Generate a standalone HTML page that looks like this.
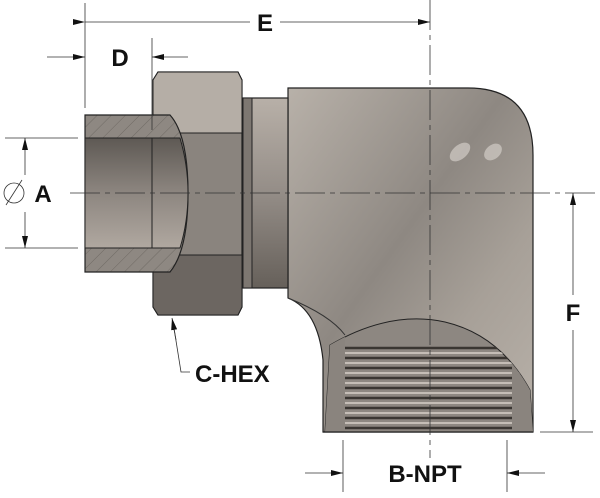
<!DOCTYPE html>
<html><head><style>
html,body{margin:0;padding:0;background:#fff;width:600px;height:498px;overflow:hidden}
svg{display:block}
text{font-family:"Liberation Sans",sans-serif;font-weight:bold;fill:#111}
</style></head><body>
<svg width="600" height="498" viewBox="0 0 600 498" xmlns="http://www.w3.org/2000/svg">
<defs>
<linearGradient id="tube" x1="0" y1="0" x2="0" y2="1">
<stop offset="0" stop-color="#5e5954"/><stop offset="0.5" stop-color="#8d8680"/><stop offset="1" stop-color="#b0a8a0"/></linearGradient>
<linearGradient id="sleeve" x1="0" y1="0" x2="0" y2="1">
<stop offset="0" stop-color="#b8b0a8"/><stop offset="0.5" stop-color="#948d87"/><stop offset="1" stop-color="#66605a"/></linearGradient>
<linearGradient id="body" x1="0" y1="0" x2="1" y2="1">
<stop offset="0" stop-color="#b8b1a9"/><stop offset="0.45" stop-color="#8e8882"/><stop offset="0.7" stop-color="#a7a098"/><stop offset="1" stop-color="#b8b1a9"/></linearGradient>
<pattern id="hatch" width="10" height="10" patternUnits="userSpaceOnUse" patternTransform="rotate(45)">
<rect width="10" height="10" fill="#8e8882"/><line x1="0" y1="0" x2="0" y2="10" stroke="#5a5550" stroke-width="0.6"/></pattern>
<marker id="ar" markerWidth="12" markerHeight="8" refX="12" refY="4" orient="auto" markerUnits="userSpaceOnUse">
<path d="M0,1 L12,4 L0,7 Z" fill="#111"/></marker>
<clipPath id="thr"><path d="M330,345 Q390,310 445,322 Q500,335 530,390 L533,432 L325,432 Z"/></clipPath>
</defs>

<!-- elbow body -->
<path d="M288,88 L468,88 Q533,88 533,155 L533,432 L323,432 L323,360 Q318,310 288,298 Z" fill="url(#body)" stroke="#222" stroke-width="1.2"/>
<path d="M288,298 Q330,315 345,335" fill="none" stroke="#333" stroke-width="1"/>
<ellipse cx="460" cy="152" rx="12" ry="7" fill="#d2ccc6" opacity="0.7" transform="rotate(-40 460 152)"/>
<ellipse cx="493" cy="152" rx="10" ry="7" fill="#d2ccc6" opacity="0.7" transform="rotate(-40 493 152)"/>
<!-- thread region -->
<path d="M330,345 Q390,310 445,322 Q500,335 530,390 L533,432 L325,432 Z" fill="#8d8781" stroke="#222" stroke-width="1"/>
<g clip-path="url(#thr)">
<g stroke="#3a3632" stroke-width="2.5">
<line x1="340" y1="348" x2="520" y2="348"/><line x1="340" y1="358" x2="520" y2="358"/>
<line x1="340" y1="368" x2="520" y2="368"/><line x1="340" y1="378" x2="520" y2="378"/>
<line x1="340" y1="388" x2="520" y2="388"/><line x1="340" y1="398" x2="520" y2="398"/>
<line x1="340" y1="408" x2="520" y2="408"/><line x1="340" y1="418" x2="520" y2="418"/>
<line x1="340" y1="428" x2="520" y2="428"/></g>
<g stroke="#d6cfc8" stroke-width="1.5">
<line x1="340" y1="353" x2="520" y2="353"/><line x1="340" y1="363" x2="520" y2="363"/>
<line x1="340" y1="373" x2="520" y2="373"/><line x1="340" y1="383" x2="520" y2="383"/>
<line x1="340" y1="393" x2="520" y2="393"/><line x1="340" y1="403" x2="520" y2="403"/>
<line x1="340" y1="413" x2="520" y2="413"/><line x1="340" y1="423" x2="520" y2="423"/></g>
<rect x="323" y="330" width="22" height="110" fill="#8a847e"/>
<rect x="512" y="330" width="25" height="110" fill="#8a847e"/>
</g>
<line x1="323" y1="432" x2="533" y2="432" stroke="#222" stroke-width="1.2"/>

<!-- sleeve -->
<rect x="243" y="98" width="45" height="190" fill="url(#sleeve)" stroke="#222" stroke-width="1.2"/>
<rect x="243" y="98" width="9" height="190" fill="#7d7771" stroke="#222" stroke-width="1"/>

<!-- nut -->
<path d="M158,72 L238,72 L242,80 L242,307 L238,315 L158,315 L153,307 L153,80 Z" fill="#8a847e" stroke="#222" stroke-width="1.2"/>
<path d="M158,72 L238,72 L242,80 L242,133 L153,133 L153,80 Z" fill="#b5aea6" stroke="#222" stroke-width="1"/>
<path d="M153,255 L242,255 L242,307 L238,315 L158,315 L153,307 Z" fill="#6c6661" stroke="#222" stroke-width="1"/>
<!-- tube -->
<path d="M85,115 L170,115 Q188,135 188,193 Q188,250 170,272 L85,272 Z" fill="url(#hatch)" stroke="#222" stroke-width="1.2"/>
<rect x="85" y="138" width="67" height="110" fill="url(#tube)" stroke="#222" stroke-width="1"/>
<path d="M152,138 L180,138 Q188,165 188,193 Q188,222 180,248 L152,248 Z" fill="url(#tube)" stroke="#222" stroke-width="1"/>

<!-- centerlines -->
<line x1="70" y1="193" x2="595" y2="193" stroke="#333" stroke-width="0.8" stroke-dasharray="30,5,5,5"/>
<line x1="430" y1="0" x2="430" y2="458" stroke="#333" stroke-width="0.8" stroke-dasharray="30,5,5,5"/>

<!-- dimensions -->
<g stroke="#333" stroke-width="0.8" fill="none">
<line x1="85" y1="3" x2="85" y2="108"/>
<line x1="85" y1="22" x2="250" y2="22" marker-start="url(#ar)"/>
<line x1="280" y1="22" x2="430" y2="22" marker-end="url(#ar)"/>
<line x1="152" y1="38" x2="152" y2="130"/>
<line x1="47" y1="57" x2="85" y2="57" marker-end="url(#ar)"/>
<line x1="188" y1="57" x2="152" y2="57" marker-end="url(#ar)"/>
<line x1="5" y1="138" x2="78" y2="138"/>
<line x1="5" y1="248" x2="78" y2="248"/>
<line x1="25" y1="175" x2="25" y2="138" marker-end="url(#ar)"/>
<line x1="25" y1="212" x2="25" y2="248" marker-end="url(#ar)"/>
<line x1="540" y1="432" x2="593" y2="432"/>
<line x1="573" y1="295" x2="573" y2="193" marker-end="url(#ar)"/>
<line x1="573" y1="330" x2="573" y2="432" marker-end="url(#ar)"/>
<line x1="343" y1="440" x2="343" y2="492"/>
<line x1="507" y1="440" x2="507" y2="492"/>
<line x1="305" y1="473" x2="343" y2="473" marker-end="url(#ar)"/>
<line x1="545" y1="473" x2="507" y2="473" marker-end="url(#ar)"/>
<polyline points="190,372 181,372 173,322"/>
<line x1="176" y1="340" x2="172" y2="318" marker-end="url(#ar)"/>
<circle cx="14" cy="193" r="10"/>
<line x1="6" y1="205" x2="22" y2="180"/>
</g>
<text x="265" y="31" font-size="24" text-anchor="middle">E</text>
<text x="120" y="66" font-size="24" text-anchor="middle">D</text>
<text x="43" y="202" font-size="24" text-anchor="middle">A</text>
<text x="573" y="321" font-size="24" text-anchor="middle">F</text>
<text x="195" y="382" font-size="24">C-HEX</text>
<text x="425" y="482" font-size="24" text-anchor="middle">B-NPT</text>
</svg>
</body></html>
